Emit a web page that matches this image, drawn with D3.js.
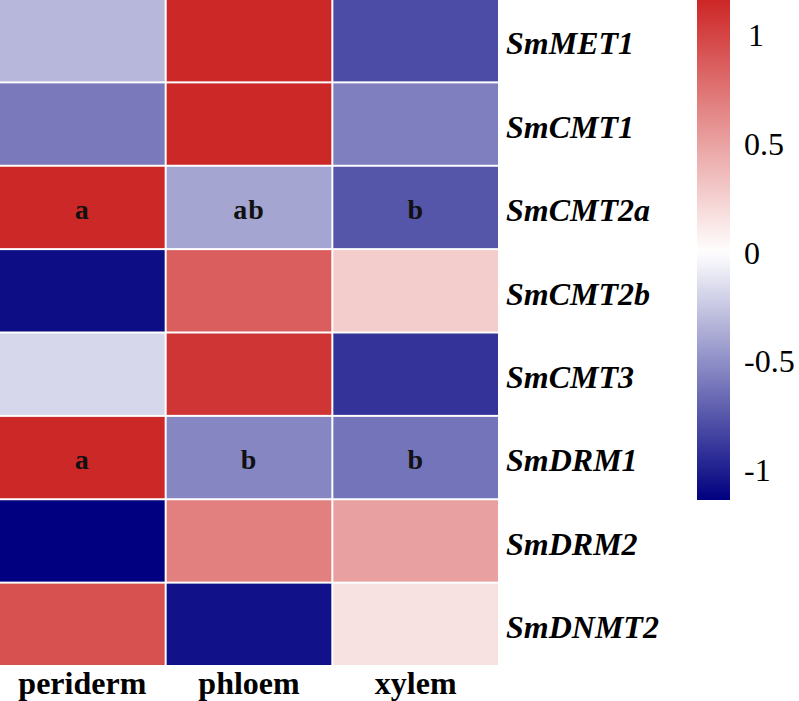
<!DOCTYPE html>
<html>
<head>
<meta charset="utf-8">
<script src="https://cdn.jsdelivr.net/npm/d3@7"></script>
<style>
  html, body { margin: 0; padding: 0; background: #fff; }
  svg { display: block; }
</style>
</head>
<body>
<script>
const genes = ["SmMET1", "SmCMT1", "SmCMT2a", "SmCMT2b", "SmCMT3", "SmDRM1", "SmDRM2", "SmDNMT2"];
const tissues = ["periderm", "phloem", "xylem"];
const periderm = [-0.32, -0.60, 1.15, -1.08, -0.18, 1.15, -1.14, 0.93];
const phloem   = [1.15, 1.15, -0.40, 0.86, 1.08, -0.54, 0.68, -1.06];
const xylem    = [-0.80, -0.57, -0.76, 0.27, -0.91, -0.62, 0.51, 0.16];
const letters = [
  {gene: "SmCMT2a", tissue: "periderm", text: "a"},
  {gene: "SmCMT2a", tissue: "phloem", text: "ab"},
  {gene: "SmCMT2a", tissue: "xylem", text: "b"},
  {gene: "SmDRM1", tissue: "periderm", text: "a"},
  {gene: "SmDRM1", tissue: "phloem", text: "b"},
  {gene: "SmDRM1", tissue: "xylem", text: "b"}
];
const legendTicks = [1, 0.5, 0, -0.5, -1];
const vmin = -1.138, vmax = 1.16;

const series = {periderm, phloem, xylem};
const cells = [];
genes.forEach((g, i) => tissues.forEach(t => cells.push({gene: g, tissue: t, value: series[t][i]})));

const W = 799, H = 701;
const svg = d3.select("body").append("svg").attr("width", W).attr("height", H);

const x = d3.scaleBand().domain(tissues).range([0, 498]).paddingInner(0.012).paddingOuter(0);
const y = d3.scaleBand().domain(genes).range([0, 665]).paddingInner(0.024).paddingOuter(0);
const color = d3.scaleLinear().domain([vmin, 0, vmax]).range(["#000080", "#ffffff", "#cd2626"]).interpolate(d3.interpolateRgb);

const font = "'Liberation Serif', 'Times New Roman', Times, serif";

svg.append("g").selectAll("rect").data(cells).join("rect")
  .attr("x", d => x(d.tissue)).attr("y", d => y(d.gene))
  .attr("width", x.bandwidth()).attr("height", y.bandwidth())
  .attr("fill", d => color(d.value));

svg.append("g").selectAll("text").data(letters).join("text")
  .attr("x", d => x(d.tissue) + x.bandwidth() / 2)
  .attr("y", d => y(d.gene) + y.bandwidth() / 2)
  .attr("dy", "0.42em")
  .attr("text-anchor", "middle")
  .style("font-family", font).style("font-weight", "bold").style("font-size", "28px")
  .style("letter-spacing", "1px")
  .attr("fill", "#111")
  .text(d => d.text);

// row labels
svg.append("g").selectAll("text").data(genes).join("text")
  .attr("x", 506)
  .attr("y", d => y(d) + y.bandwidth() / 2)
  .attr("dy", "0.43em")
  .style("font-family", font).style("font-weight", "bold").style("font-style", "italic").style("font-size", "32px")
  .attr("fill", "#000")
  .text(d => d);

// column labels
svg.append("g").selectAll("text").data(tissues).join("text")
  .attr("x", d => x(d) + x.bandwidth() / 2)
  .attr("y", 694)
  .attr("text-anchor", "middle")
  .style("font-family", font).style("font-weight", "bold").style("font-size", "32px")
  .attr("fill", "#000")
  .text(d => d);

// colour legend
const ly = d3.scaleLinear().domain([vmax, vmin]).range([0, 500]);
const defs = svg.append("defs");
const grad = defs.append("linearGradient").attr("id", "cb").attr("x1", 0).attr("y1", 0).attr("x2", 0).attr("y2", 1);
d3.range(0, 1.0001, 0.02).forEach(o => {
  grad.append("stop").attr("offset", o).attr("stop-color", color(ly.invert(o * 500)));
});
svg.append("rect").attr("x", 697).attr("y", ly(vmax)).attr("width", 33).attr("height", ly(vmin) - ly(vmax)).attr("fill", "url(#cb)");

svg.append("g").selectAll("text").data(legendTicks).join("text")
  .attr("x", d => d === 1 ? 748 : 744)
  .attr("y", d => ly(d))
  .attr("dy", "0.35em")
  .style("font-family", font).style("font-size", "32px")
  .attr("fill", "#000")
  .text(d => (d < 0 ? "-" : "") + Math.abs(d));
</script>
</body>
</html>
